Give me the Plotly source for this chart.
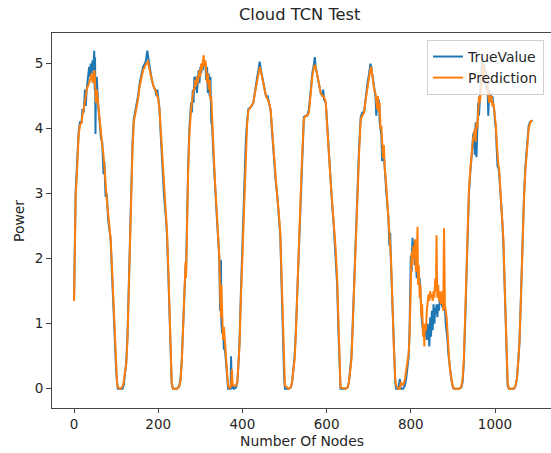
import plotly.graph_objects as go

# ---- data ----
x_c1 = [0, 2, 4, 6, 8, 11, 14, 18, 20, 23, 26, 28, 30, 33, 36, 38, 40, 42, 44, 46, 48, 49, 50, 51, 52, 54, 56, 58, 61, 64, 67, 70, 72, 75, 78, 81, 84, 87, 90, 93, 96, 98, 100, 102, 104, 110, 115, 118, 121]
true_c1 = [1.35, 2.5, 3.05, 3.3, 3.6, 3.95, 4.1, 4.1, 4.3, 4.25, 4.6, 4.35, 4.6, 4.75, 4.95, 4.8, 5.0, 4.85, 5.05, 4.9, 5.2, 4.6, 5.1, 3.92, 4.7, 4.8, 4.4, 4.3, 4.1, 3.85, 3.8, 3.3, 3.5, 2.95, 3.0, 2.6, 2.45, 2.3, 1.8, 1.3, 0.75, 0.55, 0.3, 0.1, 0.0, 0.0, 0.0, 0.05, 0.2]
pred_c1 = [1.35, 2.4, 3.0, 3.2, 3.5, 3.9, 4.05, 4.1, 4.2, 4.3, 4.45, 4.5, 4.6, 4.65, 4.7, 4.75, 4.8, 4.85, 4.7, 4.85, 4.9, 4.85, 4.6, 4.7, 4.4, 4.6, 4.45, 4.3, 4.1, 3.95, 3.75, 3.6, 3.4, 3.1, 2.9, 2.7, 2.5, 2.3, 1.9, 1.4, 0.9, 0.5, 0.3, 0.12, 0.02, 0.0, 0.03, 0.1, 0.25]

x_c2 = [124, 127, 130, 133, 136, 139, 142, 146, 149, 152, 156, 160, 164, 168, 171, 174, 176, 178, 181, 185, 189, 193, 196, 198, 200, 203, 206, 210, 214, 218, 221, 224, 226, 228, 230, 232, 235, 245, 250, 253, 256, 258]
true_c2 = [0.4, 0.8, 1.6, 2.5, 3.2, 3.8, 4.15, 4.3, 4.35, 4.5, 4.7, 4.85, 4.95, 5.0, 5.05, 5.2, 5.1, 5.0, 4.9, 4.75, 4.65, 4.6, 4.5, 4.6, 4.45, 4.3, 3.9, 3.4, 2.95, 2.65, 2.35, 1.75, 1.25, 0.75, 0.35, 0.08, 0.0, 0.0, 0.05, 0.15, 0.45, 0.75]
pred_c2 = [0.38, 0.75, 1.5, 2.4, 3.1, 3.7, 4.1, 4.25, 4.3, 4.45, 4.65, 4.8, 4.9, 4.95, 5.0, 5.0, 5.05, 4.95, 4.85, 4.75, 4.65, 4.6, 4.55, 4.5, 4.45, 4.3, 4.0, 3.5, 3.05, 2.7, 2.4, 1.85, 1.35, 0.85, 0.4, 0.1, 0.0, 0.0, 0.03, 0.12, 0.4, 0.8]

x_c3 = [261, 263, 265, 266, 268, 271, 274, 276, 278, 280, 282, 284, 286, 288, 290, 292, 294, 296, 298, 300, 302, 304, 306, 308, 310, 312, 314, 316, 318, 320, 322, 324, 326, 328, 331, 334, 337, 340, 343, 345, 347, 349, 350, 352, 354, 356, 358, 360, 362, 364, 366, 370, 372, 373, 375, 377, 380, 385, 388]
true_c3 = [1.3, 1.7, 1.9, 1.75, 2.6, 3.4, 4.0, 4.25, 4.4, 4.25, 4.6, 4.4, 4.8, 4.6, 4.8, 4.55, 4.85, 4.9, 4.7, 4.95, 4.85, 5.0, 4.9, 5.05, 4.95, 5.0, 4.75, 4.95, 4.55, 4.85, 4.5, 4.8, 4.1, 4.05, 3.6, 3.2, 2.85, 2.55, 2.25, 2.0, 1.2, 1.98, 1.0, 0.85, 0.95, 0.6, 0.65, 0.5, 0.3, 0.1, 0.0, 0.0, 0.0, 0.5, 0.0, 0.05, 0.0, 0.02, 0.1]
pred_c3 = [1.4, 1.7, 1.95, 1.7, 2.5, 3.3, 3.9, 4.2, 4.3, 4.4, 4.5, 4.6, 4.6, 4.75, 4.65, 4.8, 4.7, 4.85, 4.9, 4.8, 5.0, 4.9, 5.1, 5.13, 4.95, 5.05, 4.9, 4.7, 4.85, 4.6, 4.75, 4.45, 4.5, 4.15, 3.7, 3.3, 2.95, 2.6, 2.3, 2.05, 1.5, 1.1, 1.6, 0.9, 0.75, 0.95, 0.7, 0.55, 0.4, 0.2, 0.05, 0.0, 0.02, 0.05, 0.3, 0.05, 0.05, 0.05, 0.12]

x_c4 = [390, 393, 396, 399, 402, 405, 408, 411, 414, 418, 422, 426, 430, 434, 438, 441, 444, 448, 452, 456, 460, 463, 467, 471, 475, 479, 483, 487, 490, 493, 496, 499, 501, 510, 515, 518, 521]
true_c4 = [0.3, 0.7, 1.4, 2.0, 2.7, 3.3, 3.8, 4.1, 4.3, 4.32, 4.35, 4.4, 4.6, 4.75, 4.9, 5.03, 4.9, 4.75, 4.6, 4.5, 4.5, 4.38, 4.28, 3.9, 3.5, 3.2, 2.95, 2.6, 2.35, 1.6, 0.8, 0.2, 0.0, 0.0, 0.02, 0.1, 0.3]
pred_c4 = [0.3, 0.65, 1.3, 1.9, 2.6, 3.2, 3.7, 4.05, 4.28, 4.32, 4.35, 4.4, 4.55, 4.7, 4.85, 4.95, 4.88, 4.75, 4.6, 4.5, 4.45, 4.4, 4.3, 4.0, 3.6, 3.25, 3.0, 2.65, 2.4, 1.7, 0.9, 0.3, 0.05, 0.0, 0.02, 0.1, 0.3]

x_c5 = [524, 527, 531, 535, 538, 542, 546, 550, 554, 558, 562, 566, 570, 572, 574, 578, 582, 586, 590, 592, 594, 598, 602, 606, 610, 613, 617, 621, 625, 628, 631, 633, 645, 650, 653, 656]
true_c5 = [0.5, 0.9, 1.6, 2.4, 2.95, 3.7, 4.18, 4.2, 4.2, 4.3, 4.6, 4.85, 5.0, 5.1, 4.95, 4.8, 4.65, 4.55, 4.5, 4.6, 4.45, 4.4, 4.0, 3.5, 3.1, 2.85, 2.5, 2.1, 1.6, 0.9, 0.2, 0.0, 0.0, 0.02, 0.1, 0.3]
pred_c5 = [0.45, 0.85, 1.5, 2.3, 2.9, 3.6, 4.15, 4.2, 4.2, 4.25, 4.55, 4.8, 4.95, 4.98, 4.95, 4.8, 4.65, 4.55, 4.5, 4.5, 4.5, 4.4, 4.05, 3.55, 3.15, 2.9, 2.55, 2.2, 1.7, 1.0, 0.25, 0.02, 0.0, 0.02, 0.1, 0.3]

x_c6 = [659, 662, 666, 670, 673, 677, 681, 685, 689, 693, 697, 701, 704, 706, 709, 713, 716, 718, 720, 722, 724, 726, 728, 730, 732, 734, 736, 738, 741, 744, 747, 749, 751, 753, 755, 757, 760, 763, 765, 770, 774, 776, 782, 786, 789, 792, 795]
true_c6 = [0.5, 1.0, 1.8, 2.5, 2.95, 3.7, 4.18, 4.25, 4.25, 4.5, 4.7, 4.85, 5.0, 4.95, 4.8, 4.6, 4.5, 4.2, 4.5, 4.3, 4.45, 4.1, 4.0, 3.9, 3.5, 3.75, 3.6, 3.3, 3.1, 2.85, 2.6, 2.2, 2.4, 1.9, 1.5, 1.0, 0.5, 0.1, 0.0, 0.0, 0.15, 0.0, 0.0, 0.05, 0.15, 0.3, 0.5]
pred_c6 = [0.45, 0.95, 1.7, 2.4, 2.9, 3.6, 4.15, 4.2, 4.25, 4.45, 4.65, 4.8, 4.92, 4.95, 4.8, 4.6, 4.55, 4.45, 4.3, 4.5, 4.25, 4.4, 4.0, 4.05, 3.7, 3.55, 3.75, 3.4, 3.2, 2.9, 2.65, 2.4, 2.2, 2.0, 1.6, 1.1, 0.6, 0.15, 0.05, 0.0, 0.0, 0.1, 0.05, 0.15, 0.3, 0.4, 0.55]

x_c7 = [797, 799, 800, 802, 804, 806, 808, 810, 812, 814, 816, 817, 819, 821, 823, 825, 827, 829, 831, 832, 834, 836, 838, 840, 842, 844, 846, 848, 850, 852, 854, 856, 858, 860, 861, 863, 865, 867, 869, 871, 873, 875, 877, 879, 881, 883, 885, 887, 889, 891, 893, 896, 899, 902, 915, 920, 923]
true_c7 = [0.9, 1.6, 2.05, 1.8, 2.32, 2.1, 2.25, 1.9, 2.0, 1.7, 1.8, 1.75, 1.6, 1.7, 1.3, 1.2, 1.0, 0.9, 0.8, 0.9, 0.8, 0.9, 0.75, 1.0, 0.9, 0.65, 1.1, 0.8, 1.2, 0.9, 1.3, 1.0, 1.25, 1.15, 1.3, 1.1, 1.3, 1.2, 1.4, 1.3, 1.35, 1.25, 1.3, 1.2, 1.25, 1.0, 0.9, 0.75, 0.55, 0.4, 0.25, 0.15, 0.05, 0.0, 0.0, 0.02, 0.1]
pred_c7 = [0.8, 1.4, 1.9, 2.1, 1.9, 2.2, 2.0, 2.3, 1.8, 2.0, 2.49, 1.6, 1.9, 1.4, 1.6, 1.1, 1.3, 0.8, 1.0, 0.65, 1.0, 0.9, 1.2, 1.4, 1.45, 1.35, 1.5, 1.4, 1.45, 1.35, 1.5, 1.4, 1.7, 1.5, 2.36, 1.4, 1.6, 1.35, 1.5, 1.3, 1.4, 1.5, 1.2, 2.47, 1.3, 1.2, 1.1, 0.9, 0.6, 0.45, 0.3, 0.15, 0.05, 0.0, 0.0, 0.03, 0.15]

x_c8 = [926, 929, 932, 935, 938, 941, 944, 946, 948, 950, 952, 954, 956, 958, 960, 962, 964, 966, 968, 970, 972, 974, 976, 978, 980, 982, 984, 986, 988, 990, 992, 994, 996, 998, 1000, 1002, 1004, 1006, 1008, 1010, 1012, 1014, 1017, 1020, 1023, 1026, 1028, 1030, 1033, 1045, 1049, 1052, 1055, 1058, 1061, 1064, 1066, 1069, 1072, 1075, 1078, 1080, 1083, 1086, 1089]
true_c8 = [0.4, 1.0, 1.8, 2.6, 3.0, 3.3, 3.5, 3.7, 3.9, 3.95, 3.6, 4.1, 3.56, 4.3, 4.4, 4.2, 4.6, 4.7, 4.9, 5.1, 4.85, 5.0, 4.7, 4.9, 4.6, 4.75, 4.2, 4.6, 4.5, 4.55, 4.4, 4.5, 4.35, 4.3, 4.1, 4.0, 3.7, 3.42, 3.4, 3.3, 3.1, 2.95, 2.6, 2.2, 1.5, 0.8, 0.3, 0.05, 0.0, 0.0, 0.05, 0.15, 0.4, 0.7, 1.3, 2.0, 2.5, 3.0, 3.4, 3.7, 3.95, 4.05, 4.1, 4.12, 4.13]
pred_c8 = [0.45, 1.1, 1.9, 2.7, 3.05, 3.35, 3.6, 3.75, 3.85, 3.9, 4.0, 3.8, 4.1, 4.0, 4.39, 4.5, 4.4, 4.6, 4.7, 4.9, 5.0, 4.8, 4.9, 4.7, 4.75, 4.6, 4.55, 4.4, 4.55, 4.4, 4.5, 4.35, 4.4, 4.3, 4.2, 4.05, 3.8, 3.5, 3.45, 3.35, 3.15, 3.0, 2.7, 2.3, 1.6, 0.9, 0.4, 0.1, 0.0, 0.0, 0.05, 0.15, 0.4, 0.7, 1.25, 1.95, 2.45, 2.95, 3.35, 3.65, 3.9, 4.0, 4.08, 4.12, 4.12]

x_tick_values = [0, 200, 400, 600, 800, 1000]
y_tick_values = [0, 1, 2, 3, 4, 5]

segments = [
    (x_c1, true_c1, pred_c1), (x_c2, true_c2, pred_c2), (x_c3, true_c3, pred_c3),
    (x_c4, true_c4, pred_c4), (x_c5, true_c5, pred_c5), (x_c6, true_c6, pred_c6),
    (x_c7, true_c7, pred_c7), (x_c8, true_c8, pred_c8),
]
nodes, true_value, prediction = [], [], []
for i, (xs, ts, ps) in enumerate(segments):
    assert len(xs) == len(ts) == len(ps), (i + 1, len(xs), len(ts), len(ps))
    nodes += xs
    true_value += ts
    prediction += ps

FONT = "DejaVu Sans"
TXT = "#262626"

fig = go.Figure()
fig.add_trace(go.Scatter(x=nodes, y=true_value, mode="lines", name="TrueValue",
                         line=dict(color="#1f77b4", width=2)))
fig.add_trace(go.Scatter(x=nodes, y=prediction, mode="lines", name="Prediction",
                         line=dict(color="#ff7f0e", width=2)))

L, T, B, W, H = 52, 33, 408, 551, 453
pw, ph = W - L, B - T


def px2paper(px, py):
    return (px - L) / pw, (B - py) / ph


tx, ty = px2paper(299, 15)
xx, xy = px2paper(302, 441)
yx, yy = px2paper(19, 221)
lx, ly = px2paper(427, 40)

fig.update_layout(
    width=W, height=H,
    margin=dict(l=L, r=0, t=T, b=H - B, pad=0),
    paper_bgcolor="white", plot_bgcolor="white",
    font=dict(family=FONT, size=13.5, color=TXT),
    showlegend=True,
    legend=dict(x=lx, y=ly, xanchor="left", yanchor="top",
                bgcolor="rgba(255,255,255,0.8)", bordercolor="#d0d0d0", borderwidth=1,
                font=dict(family=FONT, size=13.9, color=TXT), tracegroupgap=0),
    annotations=[
        dict(text="Cloud TCN Test", x=tx, y=ty, xref="paper", yref="paper",
             xanchor="center", yanchor="middle", showarrow=False,
             font=dict(family=FONT, size=16.3, color=TXT)),
        dict(text="Number Of Nodes", x=xx, y=xy, xref="paper", yref="paper",
             xanchor="center", yanchor="middle", showarrow=False,
             font=dict(family=FONT, size=13.9, color=TXT)),
        dict(text="Power", x=yx, y=yy, xref="paper", yref="paper", textangle=-90,
             xanchor="center", yanchor="middle", showarrow=False,
             font=dict(family=FONT, size=13.9, color=TXT)),
    ],
)
fig.update_xaxes(range=[-52.3, 1133], tickmode="array", tickvals=x_tick_values,
                 ticks="outside", ticklen=4, tickwidth=1, tickcolor="#444",
                 showline=True, linecolor="#444", linewidth=1, mirror=True,
                 showgrid=False, zeroline=False,
                 tickfont=dict(family=FONT, size=13.5, color=TXT))
fig.update_yaxes(range=[-0.297, 5.472], tickmode="array", tickvals=y_tick_values,
                 ticks="outside", ticklen=5, tickwidth=1, tickcolor="#444",
                 showline=True, linecolor="#444", linewidth=1, mirror=False,
                 showgrid=False, zeroline=False,
                 tickfont=dict(family=FONT, size=13.5, color=TXT))

fig.write_html("out.html")
